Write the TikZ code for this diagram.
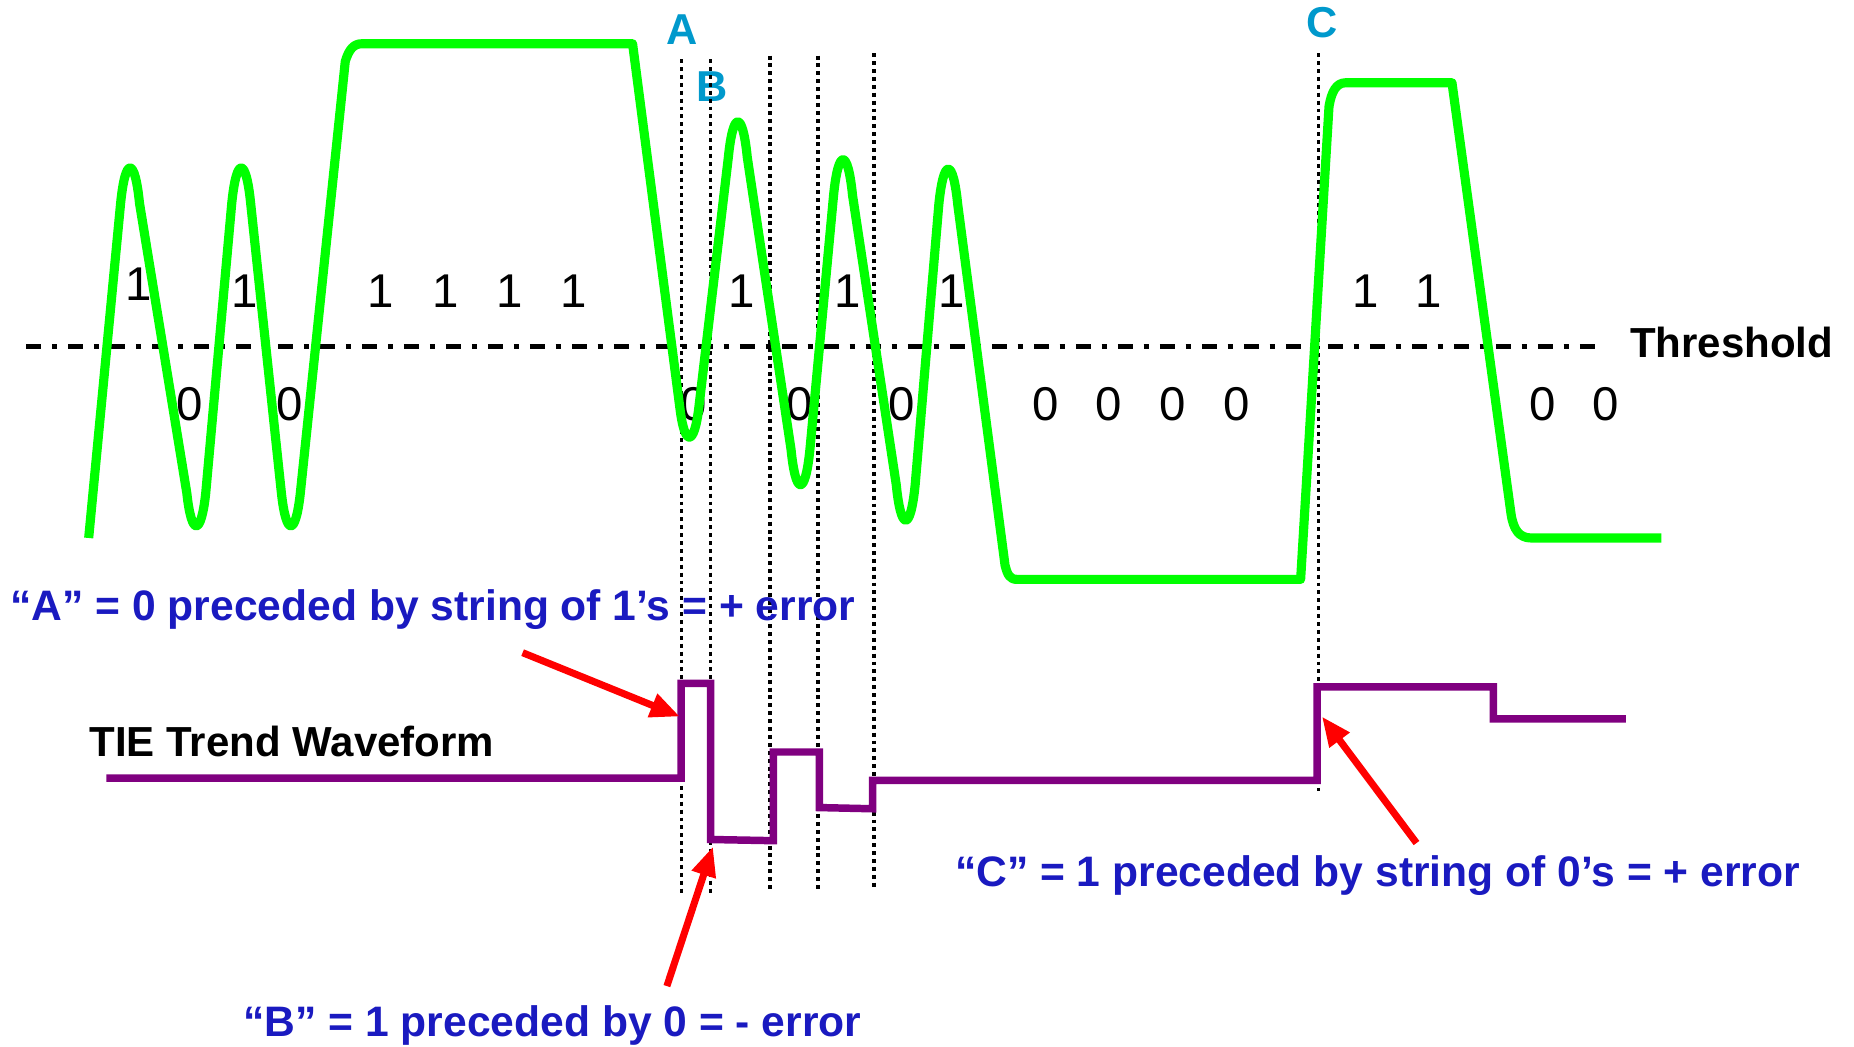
\documentclass[tikz,border=0pt]{standalone}
\usepackage{fontspec}
\setmainfont{Liberation Sans}
\usepackage{tikz}
\usetikzlibrary{arrows.meta}
\definecolor{siggreen}{HTML}{00FF00}
\definecolor{tiepurple}{HTML}{800080}
\definecolor{noteblue}{HTML}{1A1AC0}
\definecolor{markcyan}{HTML}{0099CC}
\definecolor{errred}{HTML}{FF0000}

\begin{document}
\begin{tikzpicture}[
  x=0.01cm,y=-0.01cm,
  every node/.style={inner sep=0pt},
  bit/.style={font=\fontsize{11.4}{13}\selectfont},
  notetext/.style={font=\fontsize{10.25}{12}\selectfont\bfseries,text=noteblue,anchor=base west},
  plaintext/.style={font=\fontsize{10.1}{12}\selectfont\bfseries,anchor=base west},
  marklabel/.style={font=\fontsize{10.4}{12}\selectfont\bfseries,text=markcyan},
  signal/.style={line width=2.2pt,color=siggreen,line join=round},
  trend/.style={line width=1.8pt,color=tiepurple},
  thresh/.style={line width=1pt,dash pattern=on 3.7pt off 2.5pt on 1.3pt off 2.6pt},
  cut/.style={line width=0.85pt,dash pattern=on 0.95pt off 0.95pt},
  errarr/.style={-{Triangle[length=2.5mm,width=2mm]},line width=1.7pt,color=errred}
]
\useasboundingbox (0,0) rectangle (1568,885);

% threshold
\node[plaintext] (thr) at (1378,302) {Threshold};
\coordinate (thl) at (22,293);
\coordinate (thr0) at (1350,293);
\draw[thresh] (thl) -- (thr0);

% bit values
\foreach \x/\y [count=\i] in {117/240,207/246,322/246,377/246,431/246,485/246,
  627/246,717/246,805/246,1155/246,1208/246}
  \node[bit] (one\i) at (\x,\y) {1};
\foreach \x [count=\i] in {160,245,587,676,763,884,938,992,1046,1305,1358}
  \node[bit] (zero\i) at (\x,342) {0};

% sampling instants
\node[marklabel] (labA) at (577,25) {A};
\node[marklabel] (labB) at (602,73) {B};
\node[marklabel] (labC) at (1118,19) {C};
\draw[cut] (576.5,50) -- (576.5,757);
\draw[cut] (600.7,50) -- (600.7,757);
\draw[cut] (651.3,47) -- (651.3,754);
\draw[cut] (692,47) -- (692,754);
\draw[cut] (739.3,45) -- (739.3,751);
\draw[cut] (1115,45) -- (1115,669);

% data signal
\draw[signal] (75,455) -- (102,172) .. controls (106,132) and (114,132) .. (118,172)
  -- (158,417) .. controls (162,454) and (170,454) .. (174,417)
  -- (196,172) .. controls (200,132) and (208,132) .. (212,172)
  -- (238,417) .. controls (242,454) and (250,454) .. (254,417)
  -- (292,52) .. controls (295,42) and (299,37) .. (306,37) -- (535,37)
  -- (575,345) .. controls (579,378) and (587,378) .. (591,345)
  -- (616,133) .. controls (620,93) and (628,93) .. (632,133)
  -- (669,380) .. controls (673,420) and (681,420) .. (685,380)
  -- (705,165) .. controls (709,125) and (717,125) .. (721,165)
  -- (758,410) .. controls (762,450) and (770,450) .. (774,410)
  -- (794,173) .. controls (798,133) and (806,133) .. (810,173)
  -- (850,478) .. controls (852,486) and (854,490) .. (860,490) -- (1100,490)
  -- (1124,90) .. controls (1126,78) and (1130,70) .. (1138,70) -- (1228,70)
  -- (1278,435) .. controls (1280,448) and (1285,455) .. (1295,455) -- (1405,455);

% TIE trend
\node[plaintext] (tie) at (75,640) {TIE Trend Waveform};
\draw[trend] (90,658) -- (576,658) -- (576,578) -- (601,578) -- (601,710)
  -- (654,711) -- (654,636) -- (693,636) -- (693,683) -- (738,684)
  -- (738,660) -- (1114,660) -- (1114,581) -- (1263,581) -- (1263,608) -- (1375,608);

% notes
\node[notetext] (noteA) at (8,525) {“A” = 0 preceded by string of 1’s = + error};
\node[notetext] (noteB) at (205,877) {“B” = 1 preceded by 0 = - error};
\node[notetext] (noteC) at (807,750) {“C” = 1 preceded by string of 0’s = + error};
\coordinate (tailA) at (442,552);
\coordinate (tipA) at (575,606);
\coordinate (tailB) at (564,834);
\coordinate (tipB) at (603,716);
\coordinate (tailC) at (1198,713);
\coordinate (tipC) at (1118,606);
\draw[errarr] (tailA) -- (tipA);
\draw[errarr] (tailB) -- (tipB);
\draw[errarr] (tailC) -- (tipC);
\end{tikzpicture}
\end{document}
